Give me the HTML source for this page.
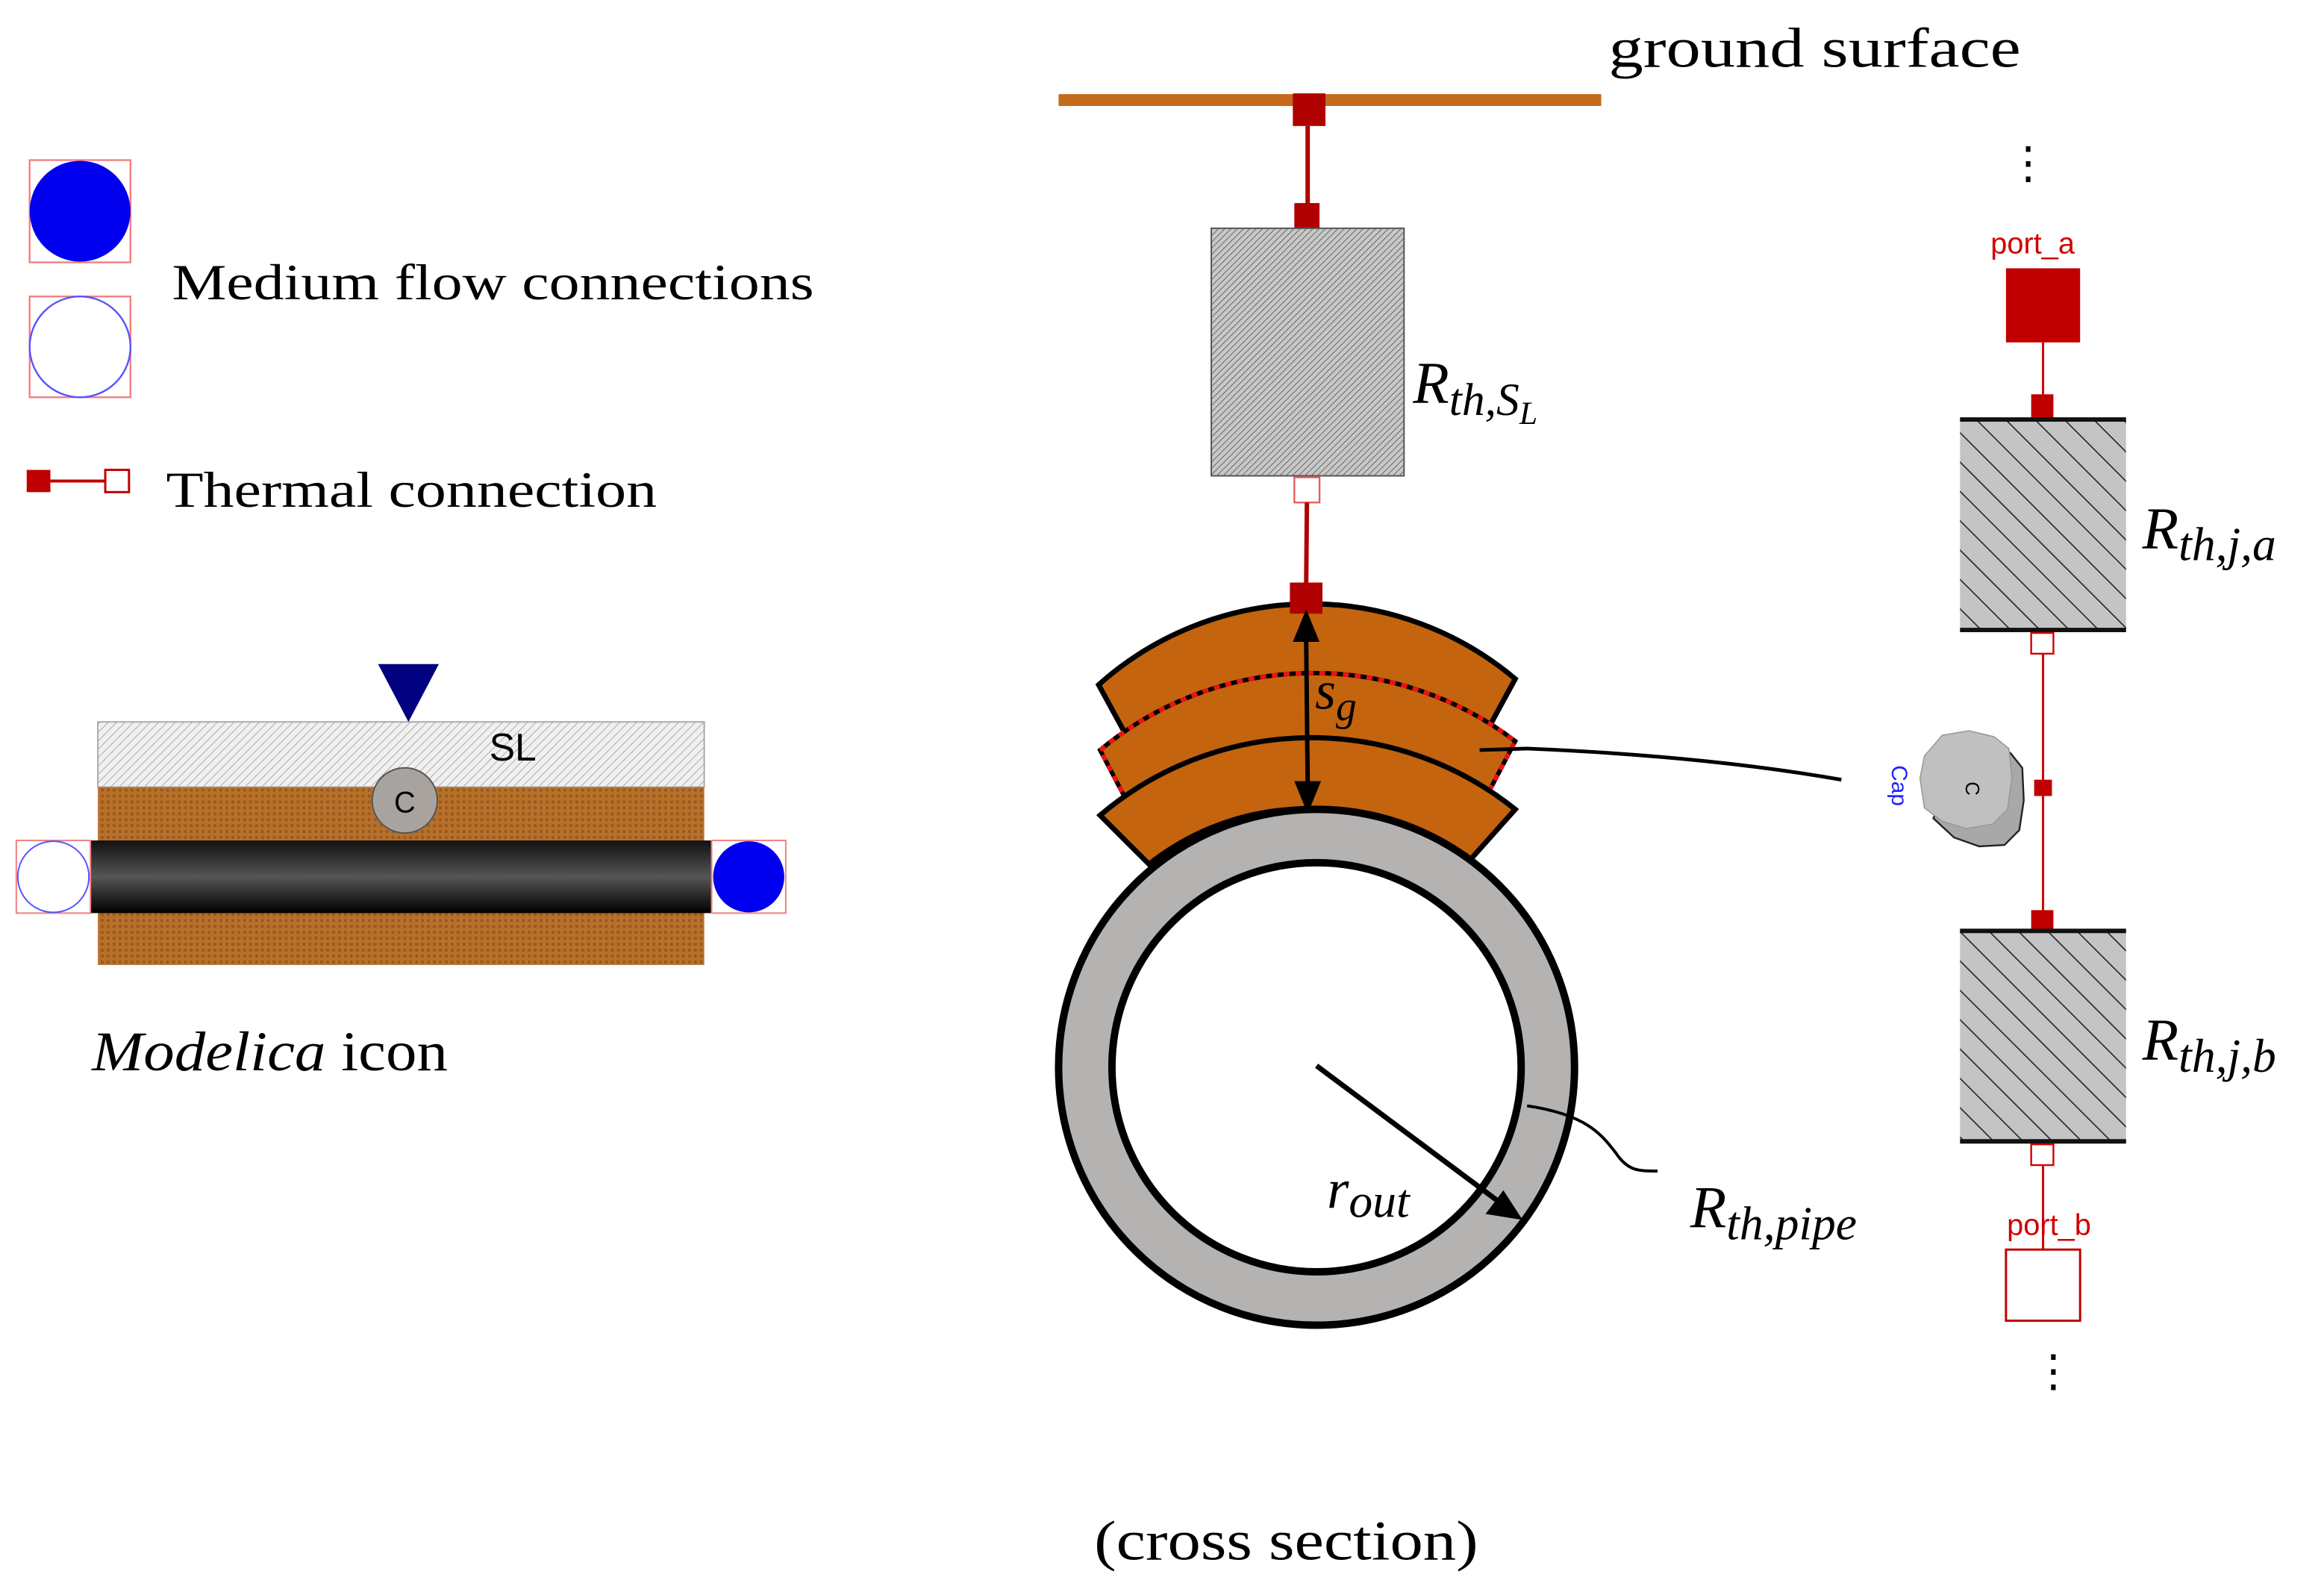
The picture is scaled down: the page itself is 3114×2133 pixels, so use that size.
<!DOCTYPE html>
<html><head><meta charset="utf-8"><style>
html,body{margin:0;padding:0;background:#fff;}
svg{display:block;}
.s{font-family:"Liberation Serif",serif;}
.a{font-family:"Liberation Sans",sans-serif;}
</style></head><body>
<svg width="3114" height="2133" viewBox="0 0 1567.5 1074" preserveAspectRatio="none" xmlns="http://www.w3.org/2000/svg">
<defs>
<pattern id="fine" width="3" height="3" patternUnits="userSpaceOnUse" patternTransform="rotate(45)">
<rect width="3" height="3" fill="#c8c8c8"/><line x1="0" y1="0" x2="0" y2="3" stroke="#666" stroke-width="1"/></pattern>
<pattern id="fine2" width="4" height="4" patternUnits="userSpaceOnUse" patternTransform="rotate(45)">
<rect width="4" height="4" fill="#f0f0f0"/><line x1="0" y1="0" x2="0" y2="4" stroke="#999" stroke-width="0.8"/></pattern>
<pattern id="hat" width="14" height="14" patternUnits="userSpaceOnUse" patternTransform="rotate(-45)">
<rect width="14" height="14" fill="#c4c4c4"/><line x1="0" y1="0" x2="0" y2="14" stroke="#222" stroke-width="1.6"/></pattern>
<pattern id="chk" width="4" height="4" patternUnits="userSpaceOnUse">
<rect width="4" height="4" fill="#b8712a"/><rect width="2" height="2" fill="#9a5a1e"/></pattern>
<linearGradient id="pg" x1="0" y1="0" x2="0" y2="1">
<stop offset="0" stop-color="#111"/><stop offset="0.5" stop-color="#555"/><stop offset="1" stop-color="#000"/></linearGradient>
</defs>

<rect x="20" y="108" width="68" height="69" fill="none" stroke="#f08080" stroke-width="1.2"/>
<circle cx="54" cy="142.5" r="34" fill="#0000ee"/>
<rect x="20" y="200" width="68" height="68" fill="none" stroke="#f08080" stroke-width="1.2"/>
<circle cx="54" cy="234" r="34" fill="#fff" stroke="#5555ff" stroke-width="1.2"/>
<text x="116" y="202" class="s" font-size="34" textLength="433" lengthAdjust="spacingAndGlyphs">Medium flow connections</text>
<rect x="18" y="317" width="16" height="15" fill="#c00000"/>
<line x1="34" y1="324.5" x2="71" y2="324.5" stroke="#c00000" stroke-width="2"/>
<rect x="71" y="317" width="16" height="15" fill="#fff" stroke="#c00000" stroke-width="1.5"/>
<text x="112" y="342" class="s" font-size="34" textLength="331" lengthAdjust="spacingAndGlyphs">Thermal connection</text>

<rect x="66" y="487" width="409" height="44" fill="url(#fine2)" stroke="#aaa" stroke-width="1"/>
<rect x="66" y="531" width="409" height="120" fill="url(#chk)"/>
<rect x="61" y="567" width="419" height="49" fill="url(#pg)"/>
<rect x="11" y="567" width="50" height="49" fill="none" stroke="#f08080" stroke-width="1"/>
<circle cx="36" cy="591.5" r="24" fill="#fff" stroke="#5555ff" stroke-width="1"/>
<rect x="480" y="567" width="50" height="49" fill="none" stroke="#f08080" stroke-width="1"/>
<circle cx="505" cy="591.5" r="24" fill="#0000ee"/>
<path d="M255,448 L296,448 L275.5,487 Z" fill="#000080"/>
<circle cx="273" cy="540" r="22" fill="#a8a39f" stroke="#555" stroke-width="1"/>
<text x="273" y="548" class="a" font-size="20" text-anchor="middle">C</text>
<text x="330" y="513" class="a" font-size="26">SL</text>
<text x="62" y="722" class="s" font-size="38" textLength="240" lengthAdjust="spacingAndGlyphs"><tspan font-style="italic">Modelica</tspan> icon</text>

<line x1="714" y1="67.5" x2="1080" y2="67.5" stroke="#c46a1a" stroke-width="8"/>
<text x="1085" y="45" class="s" font-size="38" textLength="278" lengthAdjust="spacingAndGlyphs">ground surface</text>
<rect x="872" y="63" width="22" height="22" fill="#b00000"/>
<line x1="882" y1="85" x2="882" y2="140" stroke="#b00000" stroke-width="3"/>
<rect x="873" y="137" width="17" height="17" fill="#b00000"/>
<rect x="817" y="154" width="130" height="167" fill="url(#fine)" stroke="#555" stroke-width="1"/>
<text x="953" y="272" class="s" font-size="40" font-style="italic">R<tspan font-size="31" dy="8">th,S</tspan><tspan font-size="22" dy="6">L</tspan></text>
<rect x="873" y="322" width="17" height="17" fill="#fff" stroke="#e06060" stroke-width="1.2"/>
<line x1="881.5" y1="339" x2="881" y2="395" stroke="#b00000" stroke-width="3"/>

<g stroke-linejoin="miter">
<path d="M741,462 A214,214 0 0 1 1022,458 L997,504 A200,200 0 0 0 765,506 Z" fill="#c4640e" stroke="#000" stroke-width="3.5"/>
<path d="M742,506 A225,225 0 0 1 1022,500 L997,548 A185,185 0 0 0 764,548 Z" fill="#c4640e" stroke="#000" stroke-width="3"/>
<path d="M742,506 A225,225 0 0 1 1022,500 L997,548 A185,185 0 0 0 764,548 Z" fill="none" stroke="#ee1111" stroke-width="3" stroke-dasharray="4,4"/>
<path d="M742,550 A220,220 0 0 1 1022,546 L989,583 A172,172 0 0 0 775,583 Z" fill="#c4640e" stroke="#000" stroke-width="3.5"/>
</g>

<circle cx="888" cy="720" r="174" fill="#b5b2b2" stroke="#000" stroke-width="5"/>
<circle cx="888" cy="720" r="138" fill="#fff" stroke="#000" stroke-width="5"/>

<rect x="870" y="393" width="22" height="21" fill="#b00000"/>
<line x1="881" y1="432" x2="882" y2="528" stroke="#000" stroke-width="3"/>
<path d="M881,411 L872,433 L890,433 Z" fill="#000"/>
<path d="M882,549 L873,527 L891,527 Z" fill="#000"/>
<text x="887" y="478" class="s" font-size="36" font-style="italic">s<tspan font-size="28" dy="8">g</tspan></text>
<path d="M998,506 L1030,505 Q1150,510 1242,526" fill="none" stroke="#000" stroke-width="2.5"/>

<line x1="888" y1="719" x2="1010" y2="810" stroke="#000" stroke-width="3.5"/>
<path d="M1027,823 L1002,819 L1014,803 Z" fill="#000"/>
<text x="895" y="815" class="s" font-size="38" font-style="italic">r<tspan font-size="32" dy="6">out</tspan></text>
<path d="M1030,746 C1070,752 1080,765 1090,778 C1098,790 1105,790 1118,790" fill="none" stroke="#000" stroke-width="2"/>
<text x="1140" y="828" class="s" font-size="40" font-style="italic">R<tspan font-size="32" dy="8">th,pipe</tspan></text>

<text x="738" y="1052" class="s" font-size="38" textLength="259" lengthAdjust="spacingAndGlyphs">(cross section)</text>

<text x="1368" y="120" class="s" font-size="30" text-anchor="middle">⋮</text>
<text x="1371" y="171" class="a" font-size="20" fill="#d00000" text-anchor="middle">port_a</text>
<rect x="1353" y="181" width="50" height="50" fill="#c00000"/>
<line x1="1378" y1="231" x2="1378" y2="430" stroke="#d00000" stroke-width="1.5"/>
<rect x="1370" y="266" width="15" height="16" fill="#c00000"/>
<rect x="1322" y="283" width="112" height="142" fill="url(#hat)"/>
<line x1="1322" y1="283" x2="1434" y2="283" stroke="#111" stroke-width="3"/>
<line x1="1322" y1="425" x2="1434" y2="425" stroke="#111" stroke-width="3"/>
<text x="1445" y="370" class="s" font-size="40" font-style="italic">R<tspan font-size="32" dy="8">th,j,a</tspan></text>
<rect x="1370" y="427" width="15" height="14" fill="#fff" stroke="#d00000" stroke-width="1.2"/>
<line x1="1378" y1="441" x2="1378" y2="620" stroke="#d00000" stroke-width="1.5"/>
<path d="M1318,522 L1328,510 L1342,506 L1356,508 L1364,518 L1365,540 L1362,560 L1352,570 L1335,571 L1318,565 L1304,552 Z" fill="#a8a8a8" stroke="#222" stroke-width="1.2"/>
<path d="M1298,510 L1310,496 L1328,493 L1345,497 L1355,505 L1357,525 L1354,546 L1344,556 L1326,559 L1310,554 L1298,545 L1295,525 Z" fill="#c0c0c0" stroke="#999" stroke-width="0.8"/>
<text x="1326" y="532" class="a" font-size="13" transform="rotate(90 1326 532)" text-anchor="middle">C</text>
<text x="1276" y="530" class="a" font-size="15" fill="#2222ff" transform="rotate(90 1276 530)" text-anchor="middle">Cap</text>
<rect x="1372" y="526" width="12" height="11" fill="#c00000"/>
<rect x="1370" y="614" width="15" height="16" fill="#c00000"/>
<rect x="1322" y="628" width="112" height="142" fill="url(#hat)"/>
<line x1="1322" y1="628" x2="1434" y2="628" stroke="#111" stroke-width="3"/>
<line x1="1322" y1="770" x2="1434" y2="770" stroke="#111" stroke-width="3"/>
<text x="1445" y="715" class="s" font-size="40" font-style="italic">R<tspan font-size="32" dy="8">th,j,b</tspan></text>
<rect x="1370" y="772" width="15" height="14" fill="#fff" stroke="#d00000" stroke-width="1.2"/>
<line x1="1378" y1="786" x2="1378" y2="843" stroke="#d00000" stroke-width="1.5"/>
<text x="1382" y="833" class="a" font-size="20" fill="#d00000" text-anchor="middle">port_b</text>
<rect x="1353" y="843" width="50" height="48" fill="#fff" stroke="#c00000" stroke-width="1.5"/>
<text x="1385" y="935" class="s" font-size="30" text-anchor="middle">⋮</text>
</svg>
</body></html>
